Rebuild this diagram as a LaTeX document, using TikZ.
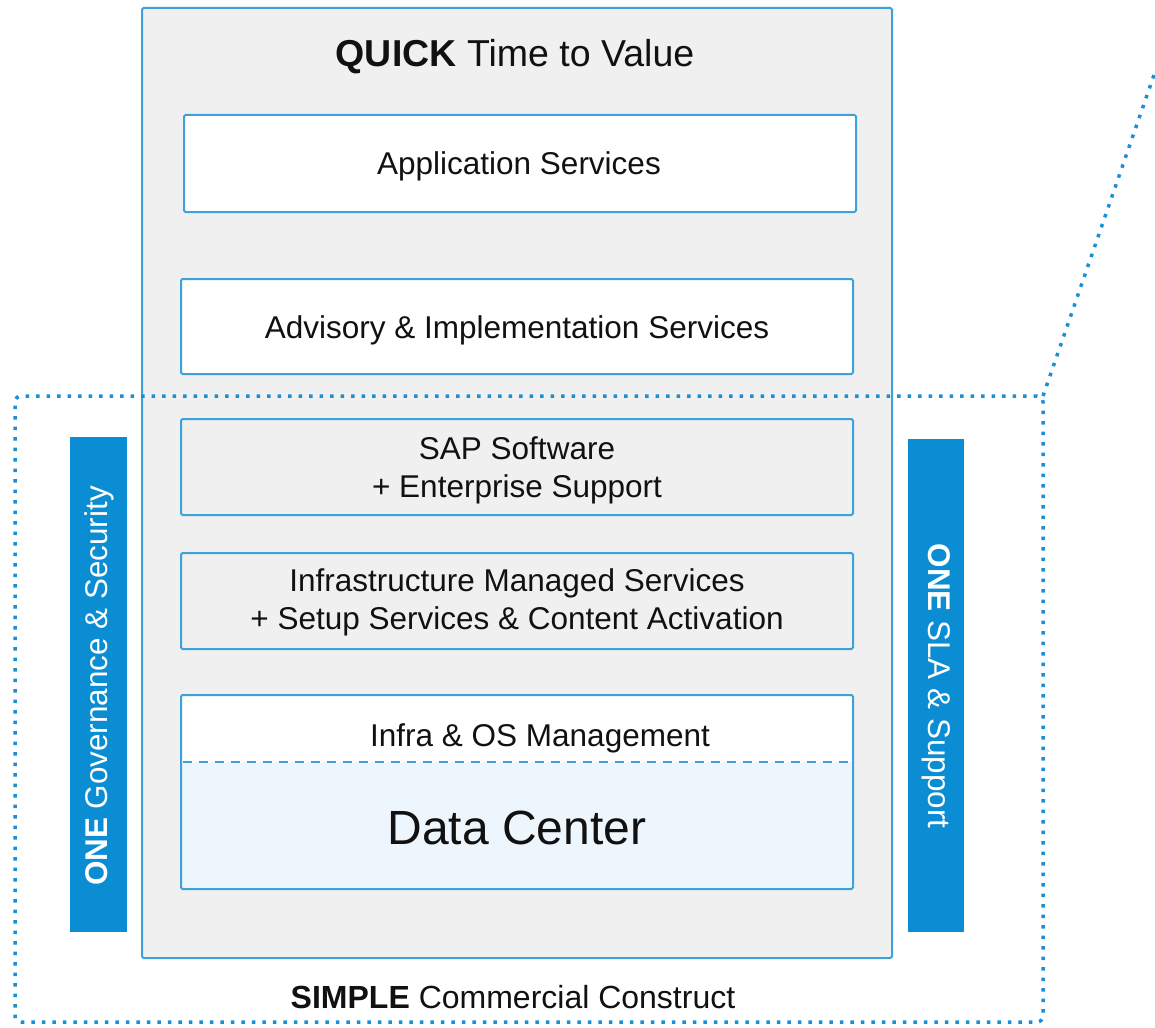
\documentclass[tikz,border=0pt]{standalone}
\usepackage{fontspec}
\setmainfont{Liberation Sans}
\definecolor{edge}{HTML}{3DA2DC}
\definecolor{panel}{HTML}{F0F0F0}
\definecolor{bar}{HTML}{0A8DD3}
\definecolor{dcfill}{HTML}{EEF6FD}
\definecolor{dot}{HTML}{1A8FD6}
\definecolor{ink}{HTML}{111111}
\begin{document}
\begin{tikzpicture}[x=1pt,y=-1pt,
  layerbox/.style={draw=edge,line width=2pt,rounded corners=1.5pt},
  body/.style={text=ink,font=\fontsize{31.5}{38}\selectfont,align=center},
  bartext/.style={text=white,font=\fontsize{31.4}{36}\selectfont},
  dotline/.style={dot,line width=3.5pt,dash pattern=on 3.5pt off 7pt}]
\useasboundingbox (0,0) rectangle (1155,1027);
% outer panel
\path[layerbox,fill=panel] (142,8) rectangle (892,958);
\node[body,font=\fontsize{37.5}{44}\selectfont] (title) at (515,57) {\textbf{QUICK} Time to Value};
% layers
\path[layerbox,fill=white] (184,115) rectangle (856,212);
\node[body] (app) at (519,166) {Application Services};
\path[layerbox,fill=white] (181,279) rectangle (853,374);
\node[body] (adv) at (517,330) {Advisory \& Implementation Services};
\path[layerbox,fill=panel] (181,419) rectangle (853,515);
\node[body] (sap) at (517,470) {SAP Software\\+ Enterprise Support};
\path[layerbox,fill=panel] (181,553) rectangle (853,649);
\node[body] (ims) at (517,602) {Infrastructure Managed Services\\+ Setup Services \& Content Activation};
\path[fill=dcfill] (181,762) rectangle (853,889);
\path[fill=white] (181,695) rectangle (853,762);
\path[layerbox] (181,695) rectangle (853,889);
\draw[edge,line width=2pt,dash pattern=on 9pt off 7pt] (183,762) -- (851,762);
\node[body] (os) at (540,738) {Infra \& OS Management};
\node[body,font=\fontsize{48}{54}\selectfont] (dc) at (517,828) {Data Center};
% side bars
\path[fill=bar] (70,437) rectangle (127,932);
\node[bartext,rotate=90] (gov) at (99,686) {\textbf{ONE} Governance \& Security};
\path[fill=bar] (908,439) rectangle (964,932);
\node[bartext,rotate=-90] (sla) at (936,686) {\textbf{ONE} SLA \& Support};
% bottom label
\node[body,font=\fontsize{32}{38}\selectfont] (simple) at (513,997) {\textbf{SIMPLE} Commercial Construct};
% dotted construct outline
\draw[dotline,rounded corners=6pt]
  (1043,396) -- (15,396) -- (15,1022) -- (1043,1022) -- cycle;
\draw[dotline] (1043,396) -- (1155,72);
\end{tikzpicture}
\end{document}
